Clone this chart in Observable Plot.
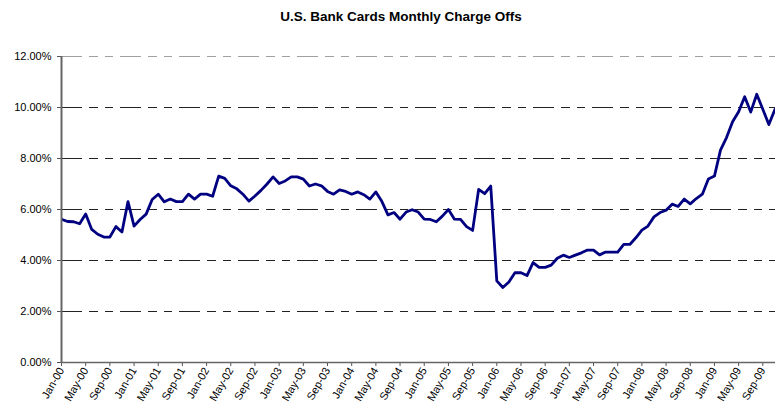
<!DOCTYPE html>
<html>
<head>
<meta charset="utf-8">
<script src="https://cdn.jsdelivr.net/npm/d3@7"></script>
<script src="https://cdn.jsdelivr.net/npm/@observablehq/plot@0.6"></script>
<style>
  html, body { margin: 0; padding: 0; background: #fff; }
  #wrap { position: relative; width: 775px; height: 406px; overflow: hidden; font-family: "Liberation Sans", Arial, sans-serif; }
  #title { height: 35px; position: relative; }
  #title span { position: absolute; top: 9px; left: 0; width: 802px; text-align: center; font-weight: bold; font-size: 13.5px; line-height: 16px; color: #000; }
</style>
</head>
<body>
<div id="wrap">
  <div id="title"><span>U.S. Bank Cards Monthly Charge Offs</span></div>
  <div id="chart"></div>
</div>
<script>
// Monthly charge-off rate (%), Jan-00 .. Nov-09
const chargeOffRate = [
  5.62,5.53,5.52,5.44,5.82,5.22,5.03,4.92,4.92,5.33,5.12,6.31, // 2000
  5.35,5.61,5.82,6.39,6.60,6.30,6.41,6.31,6.31,6.60,6.41,6.60, // 2001
  6.60,6.52,7.31,7.22,6.93,6.81,6.60,6.33,6.53,6.75,7.00,7.28, // 2002
  7.02,7.12,7.28,7.28,7.19,6.92,7.00,6.93,6.71,6.60,6.77,6.71, // 2003
  6.60,6.69,6.58,6.41,6.69,6.31,5.79,5.88,5.62,5.90,5.99,5.90, // 2004
  5.62,5.61,5.52,5.74,6.00,5.62,5.61,5.33,5.18,6.79,6.62,6.92, // 2005
  3.20,2.94,3.16,3.52,3.52,3.41,3.92,3.73,3.73,3.82,4.09,4.21, // 2006
  4.12,4.21,4.30,4.41,4.41,4.22,4.33,4.33,4.33,4.63,4.63,4.89, // 2007
  5.19,5.35,5.71,5.88,5.97,6.21,6.12,6.41,6.22,6.43,6.60,7.20, // 2008
  7.31,8.33,8.82,9.44,9.83,10.42,9.82,10.52,9.93,9.33,9.92    // 2009
];

const tickLabels = [
  "Jan-00","May-00","Sep-00","Jan-01","May-01","Sep-01","Jan-02","May-02","Sep-02",
  "Jan-03","May-03","Sep-03","Jan-04","May-04","Sep-04","Jan-05","May-05","Sep-05",
  "Jan-06","May-06","Sep-06","Jan-07","May-07","Sep-07","Jan-08","May-08","Sep-08",
  "Jan-09","May-09","Sep-09"
];
const tickStep = 4; // months between labels
const yTicks = [0, 2, 4, 6, 8, 10, 12];
const gridLines = [2, 4, 6, 8, 10, 12];

const data = chargeOffRate.map((v, i) => ({i, v}));
const xTicks = tickLabels.map((_, k) => k * tickStep);

const chart = Plot.plot({
  width: 775,
  height: 371,
  marginTop: 21,
  marginBottom: 44,
  marginLeft: 61,
  marginRight: 0,
  style: {fontFamily: "'Liberation Sans', Arial, sans-serif", fontSize: "11px", color: "#000", background: "white"},
  x: {domain: [0, 118.1], axis: null},
  y: {domain: [0, 12], axis: null},
  marks: [
    Plot.ruleY(gridLines, {stroke: d => d === 12 ? "#a0a0a0" : "#222", strokeWidth: 1, strokeDasharray: "21 7 9 7 8 7"}),
    Plot.line(data, {x: "i", y: "v", stroke: "#000080", strokeWidth: 2.8, clip: true}),
    Plot.axisY({ticks: yTicks, tickFormat: d => d.toFixed(2) + "%", tickSize: 4, tickPadding: 6, fontSize: 11, stroke: "#555", label: null}),
    Plot.axisX({ticks: xTicks, tickFormat: d => tickLabels[d / tickStep], tickRotate: -60, tickSize: 4, tickPadding: 2, fontSize: 11, stroke: "#555", label: null}),
    Plot.ruleY([0], {stroke: "#666", strokeWidth: 1.5}),
    Plot.ruleX([0], {stroke: "#666", strokeWidth: 2})
  ]
});
document.getElementById("chart").appendChild(chart);
</script>
</body>
</html>
